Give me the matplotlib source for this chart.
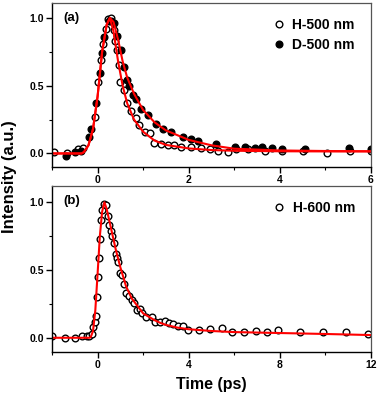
import matplotlib
matplotlib.use('Agg')
import matplotlib.pyplot as plt
from matplotlib.ticker import MultipleLocator

plt.rcParams['font.family'] = ['Liberation Sans', 'DejaVu Sans']
plt.rcParams['font.weight'] = 'bold'

# panel (a) data: H-500 nm (open) and D-500 nm (filled)
h500_t = [-0.96, -0.67, -0.43, -0.33, -0.06, 0.01, 0.07, 0.13, 0.18, 0.22, 0.29, 0.36, 0.39,
          0.42, 0.46, 0.49, 0.57, 0.65, 0.74, 0.84, 0.92, 1.03, 1.14, 1.24, 1.39, 1.54, 1.68,
          1.83, 2.05, 2.27, 2.46, 2.64, 2.86, 3.04, 3.3, 3.67, 4.04, 4.5, 5.03, 5.55, 6.0]
h500_i = [0.01, 0.0, 0.03, 0.04, 0.27, 0.53, 0.69, 0.81, 0.92, 0.99, 1.0, 0.91, 0.83,
          0.76, 0.65, 0.53, 0.47, 0.37, 0.31, 0.26, 0.21, 0.16, 0.15, 0.08, 0.07, 0.06, 0.06,
          0.05, 0.05, 0.04, 0.03, 0.02, 0.01, 0.03, 0.03, 0.02, 0.02, 0.02, 0.0, 0.02, 0.02]
d500_t = [-0.7, -0.5, -0.37, -0.19, -0.14, -0.04, 0.05, 0.1, 0.15, 0.25, 0.3, 0.36, 0.43,
          0.51, 0.57, 0.65, 0.7, 0.78, 0.84, 0.95, 1.1, 1.28, 1.43, 1.61, 1.87, 2.05, 2.2,
          2.6, 3.01, 3.23, 3.45, 3.6, 3.82, 4.04, 4.55, 5.52, 6.0]
d500_i = [-0.02, 0.01, 0.02, 0.12, 0.18, 0.37, 0.59, 0.74, 0.86, 0.98, 0.98, 0.96, 0.87,
          0.76, 0.64, 0.54, 0.5, 0.43, 0.4, 0.33, 0.28, 0.22, 0.18, 0.16, 0.12, 0.11, 0.09,
          0.07, 0.05, 0.05, 0.04, 0.05, 0.04, 0.03, 0.03, 0.04, 0.03]

# fitted curves
fit_a_t = [-1.0, -0.35, -0.3, -0.2, -0.1, 0.0, 0.1, 0.2, 0.27, 0.35, 0.45, 0.55, 0.65, 0.8,
           1.0, 1.25, 1.5, 2.0, 2.5, 3.0, 4.0, 5.0, 6.0]
fit_h500 = [0.0, 0.0, 0.01, 0.06, 0.18, 0.42, 0.75, 0.95, 1.0, 0.9, 0.68, 0.5, 0.37, 0.25,
            0.16, 0.095, 0.063, 0.037, 0.025, 0.02, 0.016, 0.015, 0.015]
fit_d500 = [0.0, 0.0, 0.01, 0.06, 0.18, 0.42, 0.75, 0.95, 1.0, 0.97, 0.84, 0.68, 0.56, 0.44,
            0.32, 0.23, 0.17, 0.10, 0.06, 0.035, 0.022, 0.018, 0.016]

# panel (b) data: H-600 nm
h600_t = [-1.98, -1.44, -1.0, -0.67, -0.45, -0.38, -0.23, -0.19, -0.12, -0.09, -0.04, 0.01,
          0.06, 0.1, 0.16, 0.2, 0.3, 0.38, 0.45, 0.52, 0.6, 0.65, 0.71, 0.79, 0.85, 0.9, 0.97,
          1.08, 1.18, 1.26, 1.37, 1.51, 1.59, 1.73, 1.88, 1.96, 2.14, 2.39, 2.53, 2.75, 2.96,
          3.15, 3.33, 3.55, 3.74, 3.99, 4.47, 4.93, 5.44, 5.92, 6.43, 6.94, 7.43, 7.91, 8.9,
          9.9, 10.9, 11.87]
h600_i = [0.01, 0.0, 0.0, 0.01, 0.01, 0.01, 0.03, 0.08, 0.12, 0.16, 0.30, 0.45,
          0.59, 0.73, 0.87, 0.94, 0.99, 0.98, 0.90, 0.83, 0.79, 0.75, 0.70, 0.62, 0.59, 0.56, 0.48,
          0.46, 0.40, 0.33, 0.31, 0.28, 0.26, 0.205, 0.21, 0.18, 0.15, 0.155, 0.12, 0.12, 0.125,
          0.11, 0.10, 0.09, 0.085, 0.06, 0.06, 0.065, 0.075, 0.045, 0.045, 0.05, 0.045, 0.06, 0.045,
          0.04, 0.04, 0.025]
fit_b_t = [-2.0, -0.35, -0.3, -0.2, -0.1, 0.0, 0.1, 0.2, 0.3, 0.4, 0.6, 0.8, 1.0, 1.25, 1.5,
           2.0, 2.5, 2.75, 3.0, 3.5, 4.0, 5.0, 6.0, 8.0, 10.0, 12.0]
fit_h600 = [0.0, 0.0, 0.005, 0.05, 0.2, 0.47, 0.75, 0.93, 1.0, 0.95, 0.8, 0.65, 0.52, 0.38, 0.29,
            0.18, 0.13, 0.11, 0.095, 0.075, 0.063, 0.05, 0.042, 0.035, 0.028, 0.02]

fig = plt.figure(figsize=(3.78, 3.95), dpi=100)
ax1 = fig.add_axes([52 / 378, 1 - 167 / 395, 319 / 378, 164 / 395])
ax2 = fig.add_axes([52 / 378, 1 - 352 / 395, 319 / 378, 166 / 395])

ms = 4.8
ax1.plot(h500_t, h500_i, 'o', mfc='white', mec='black', mew=1.0, ms=ms, label='H-500 nm')
ax1.plot(d500_t, d500_i, 'o', mfc='black', mec='black', mew=1.0, ms=ms, label='D-500 nm')
ax1.plot(fit_a_t, fit_h500, '-', color='red', lw=1.5)
ax1.plot(fit_a_t, fit_d500, '-', color='red', lw=1.5)
ax1.set_xlim(-1, 6)
ax1.set_ylim(-0.1, 1.11)
ax1.xaxis.set_major_locator(MultipleLocator(2))
ax1.xaxis.set_minor_locator(MultipleLocator(1))

ax2.plot(h600_t, h600_i, 'o', mfc='white', mec='black', mew=1.0, ms=ms, label='H-600 nm')
ax2.plot(fit_b_t, fit_h600, '-', color='red', lw=1.5)
ax2.set_xlim(-2, 12)
ax2.set_ylim(-0.105, 1.12)
ax2.xaxis.set_major_locator(MultipleLocator(4))
ax2.xaxis.set_minor_locator(MultipleLocator(2))

for ax, lab in [(ax1, '(a)'), (ax2, '(b)')]:
    ax.yaxis.set_major_locator(MultipleLocator(0.5))
    ax.yaxis.set_minor_locator(MultipleLocator(0.25))
    ax.yaxis.set_major_formatter(plt.FormatStrFormatter('%.1f'))
    ax.tick_params(which='major', direction='out', length=4, width=1, labelsize=7.5, pad=2)
    ax.tick_params(which='minor', direction='out', length=2, width=0.8)
    for s in ['left', 'bottom']:
        ax.spines[s].set_color('black')
        ax.spines[s].set_linewidth(1.0)
    for s in ['top', 'right']:
        ax.spines[s].set_color('#555555')
        ax.spines[s].set_linewidth(0.9)
    ax.text(0.035, 0.91, lab, transform=ax.transAxes, fontsize=9.5, fontweight='bold',
            ha='left', va='center')
    ax.legend(loc='upper right', frameon=False, fontsize=10, handletextpad=0.5,
              handlelength=1.0, borderaxespad=0.3, labelspacing=0.45,
              bbox_to_anchor=(0.98, 0.97))

ax2.set_xlabel('Time (ps)', fontsize=11.5, fontweight='bold', labelpad=5)
fig.text(10 / 378, 1 - 177 / 395, 'Intensity (a.u.)', rotation=90, fontsize=12,
         fontweight='bold', ha='center', va='center')

fig.savefig('out.png', dpi=100)
